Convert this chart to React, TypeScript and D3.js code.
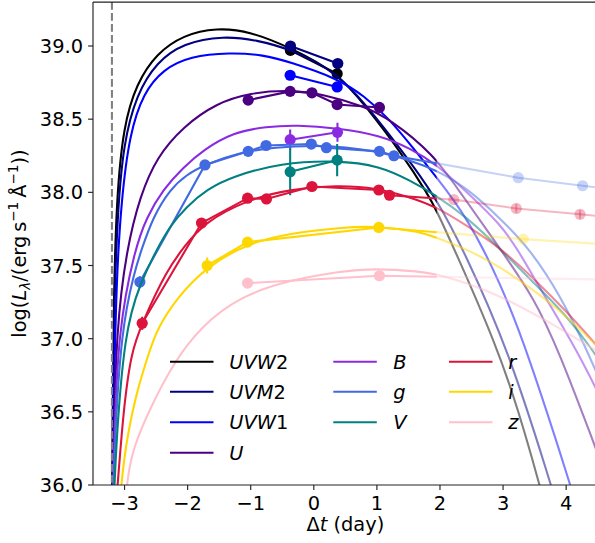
import React from "react";
import * as d3 from "d3";

type Pt = number[];

const bandNames = ["UVW2", "UVM2", "UVW1", "U", "B", "g", "V", "r", "i", "z"];
const bandColors = ["#000000", "#000080", "#0000ff", "#4b0082", "#8a2be2", "#4169e1", "#008080", "#dc143c", "#ffd700", "#ffc0cb"];

const xTicks = [-3, -2, -1, 0, 1, 2, 3, 4];
const yTicks = [36.0, 36.5, 37.0, 37.5, 38.0, 38.5, 39.0];
const explosionTime = -3.2;
const fadeTime = 1.95;

// model light curves [t, log L]
const modelUVW2: Pt[] = [[-3.2, 35.5], [-3.19, 36.5], [-3.17, 37.3], [-3.127, 37.95], [-3.02, 38.45], [-2.81, 38.745], [-2.49, 38.95], [-2.07, 39.075], [-1.54, 39.125], [-1.01, 39.1], [-0.376, 38.99], [0.37, 38.82], [0.84, 38.58], [1.37, 38.28], [1.82, 37.98], [1.95, 37.87], [2.22, 37.62], [2.9, 36.95], [3.25, 36.5], [3.58, 36.0], [3.7, 35.8]];
const modelUVM2: Pt[] = [[-3.2, 35.5], [-3.185, 36.5], [-3.16, 37.3], [-3.11, 37.85], [-3.02, 38.33], [-2.81, 38.67], [-2.49, 38.89], [-2.07, 39.02], [-1.43, 39.07], [-0.9, 39.04], [-0.376, 38.98], [0.37, 38.82], [0.84, 38.59], [1.37, 38.3], [1.93, 37.97], [2.37, 37.61], [3.09, 36.92], [3.76, 36.0], [3.9, 35.8]];
const modelUVW1: Pt[] = [[-3.2, 35.5], [-3.175, 36.5], [-3.13, 37.4], [-3.05, 37.95], [-2.92, 38.4], [-2.7, 38.68], [-2.39, 38.84], [-1.96, 38.93], [-1.33, 38.955], [-0.8, 38.94], [-0.376, 38.89], [0.365, 38.78], [0.8, 38.66], [1.2, 38.5], [1.58, 38.3], [1.95, 38.1], [2.43, 37.83], [2.96, 37.38], [3.38, 36.92], [4.07, 36.0], [4.2, 35.8]];
const modelU: Pt[] = [[-3.2, 35.5], [-3.17, 36.3], [-3.13, 37.06], [-2.97, 37.61], [-2.75, 37.98], [-2.49, 38.24], [-2.07, 38.45], [-1.54, 38.61], [-1.01, 38.68], [-0.38, 38.7], [0.15, 38.67], [0.79, 38.59], [1.21, 38.5], [1.9, 38.26], [2.32, 38.0], [2.96, 37.61], [3.49, 37.28], [3.88, 36.92], [4.47, 36.25], [4.6, 36.1]];
const modelB: Pt[] = [[-3.2, 35.5], [-3.165, 36.3], [-3.1, 37.06], [-2.84, 37.61], [-2.65, 37.83], [-2.39, 38.02], [-2.07, 38.17], [-1.75, 38.29], [-1.28, 38.41], [-0.75, 38.45], [-0.27, 38.46], [0.37, 38.44], [1.05, 38.39], [1.53, 38.3], [1.95, 38.19], [2.43, 38.0], [2.96, 37.78], [3.22, 37.62], [3.7, 37.26], [4.17, 36.92], [4.6, 36.55]];
const modelG: Pt[] = [[-3.2, 35.5], [-3.16, 36.3], [-3.05, 37.06], [-2.85, 37.45], [-2.73, 37.61], [-2.55, 37.83], [-2.28, 38.02], [-2.02, 38.12], [-1.72, 38.19], [-1.2, 38.27], [-0.6, 38.31], [0.0, 38.32], [0.5, 38.31], [1.0, 38.28], [1.53, 38.22], [1.95, 38.15], [2.43, 38.03], [2.96, 37.82], [3.43, 37.61], [3.9, 37.3], [4.3, 36.95], [4.6, 36.65]];
const modelV: Pt[] = [[-3.2, 35.5], [-3.15, 36.2], [-3.0, 37.06], [-2.75, 37.38], [-2.49, 37.61], [-2.28, 37.77], [-2.02, 37.9], [-1.7, 38.02], [-1.28, 38.11], [-0.53, 38.2], [0.37, 38.22], [1.05, 38.18], [1.53, 38.08], [1.9, 37.99], [2.43, 37.83], [2.96, 37.61], [3.49, 37.38], [4.02, 37.15], [4.39, 36.94], [4.6, 36.8]];
const modelR: Pt[] = [[-3.2, 35.5], [-3.11, 36.0], [-3.02, 36.5], [-2.9, 36.9], [-2.73, 37.1], [-2.33, 37.47], [-2.05, 37.63], [-1.75, 37.79], [-1.06, 37.95], [-0.38, 38.02], [0.37, 38.05], [1.0, 38.03], [1.5, 37.97], [1.95, 37.9], [2.43, 37.77], [2.96, 37.62], [3.49, 37.41], [4.02, 37.18], [4.47, 36.96], [4.6, 36.9]];
const modelI: Pt[] = [[-3.2, 35.0], [-3.07, 36.0], [-2.95, 36.35], [-2.8, 36.65], [-2.6, 36.92], [-2.49, 37.06], [-2.17, 37.28], [-1.7, 37.49], [-1.06, 37.65], [-0.38, 37.72], [0.42, 37.76], [1.03, 37.77], [1.69, 37.73], [1.95, 37.69], [2.43, 37.61], [2.96, 37.49], [3.49, 37.33], [4.02, 37.15], [4.44, 36.97], [4.6, 36.9]];
const modelZ: Pt[] = [[-3.2, 34.5], [-3.0, 36.0], [-2.85, 36.27], [-2.6, 36.52], [-2.23, 36.83], [-1.8, 37.08], [-1.17, 37.29], [-0.38, 37.4], [0.42, 37.46], [0.95, 37.48], [1.69, 37.46], [1.95, 37.44], [2.43, 37.38], [2.96, 37.29], [3.49, 37.17], [4.02, 37.04], [4.47, 36.92], [4.6, 36.88]];

// observations [t, log L, err]
const obsUVW2: Pt[] = [[-0.37, 38.97], [0.37, 38.81]];
const obsUVM2: Pt[] = [[-0.37, 39.0], [0.38, 38.88]];
const obsUVW1: Pt[] = [[-0.375, 38.8], [0.37, 38.72]];
const obsU: Pt[] = [[-1.04, 38.63], [-0.375, 38.69], [-0.03, 38.68], [0.37, 38.6], [1.04, 38.58]];
const obsB: Pt[] = [[-0.375, 38.36, 0.07], [0.375, 38.41, 0.065]];
const obsG: Pt[] = [[-2.757, 37.387, 0.04], [-1.725, 38.187], [-1.04, 38.28], [-0.757, 38.32], [-0.04, 38.33], [0.2, 38.305], [1.04, 38.28], [1.27, 38.25], [3.24, 38.1], [4.26, 38.045], [5.2, 37.995]];
const obsV: Pt[] = [[-0.375, 38.14, 0.16], [0.37, 38.22, 0.11]];
const obsR: Pt[] = [[-2.72, 37.105, 0.045], [-1.78, 37.79], [-1.05, 37.96], [-0.75, 37.955], [-0.03, 38.04], [1.03, 38.016], [1.2, 37.98], [2.22, 37.95], [3.21, 37.89, 0.03], [4.22, 37.85, 0.03], [5.2, 37.81]];
const obsI: Pt[] = [[-1.69, 37.5, 0.055], [-1.05, 37.66], [1.03, 37.76], [3.32, 37.68], [5.2, 37.63]];
const obsZ: Pt[] = [[-1.05, 37.38], [1.04, 37.43], [5.2, 37.4]];

const models = [modelUVW2, modelUVM2, modelUVW1, modelU, modelB, modelG, modelV, modelR, modelI, modelZ];
const observations = [obsUVW2, obsUVM2, obsUVW1, obsU, obsB, obsG, obsV, obsR, obsI, obsZ];

const FONT = "'DejaVu Sans', sans-serif";
const FS = 19.4;

function mathLabel(s: string) {
  return s.split("").map((ch, k) => (
    <tspan key={k} fontStyle={/[0-9]/.test(ch) ? "normal" : "italic"}>{ch}</tspan>
  ));
}

export default function App() {
  const W = 595, H = 543;
  const left = 93, right = 597.7, top = 2.1, bottom = 485;
  const x = d3.scaleLinear().domain([-3.5, 4.5]).range([left, right]);
  const y = d3.scaleLinear().domain([36, 39.3]).range([bottom, top]);
  const curve = d3.line<Pt>().x(d => x(d[0])).y(d => y(d[1])).curve(d3.curveBasis);
  const poly = d3.line<Pt>().x(d => x(d[0])).y(d => y(d[1]));
  const xs = x(fadeTime);
  const LW = 2.08;

  const renderBands = (modelAlpha: number, obsAlpha: number) =>
    bandNames.map((name, i) => {
      const c = bandColors[i];
      const obs = observations[i];
      return (
        <g key={name}>
          <path d={curve(models[i]) || ""} fill="none" stroke={c} strokeWidth={LW} strokeOpacity={modelAlpha} />
          {obs.filter(d => d[2]).map((d, j) => (
            <line key={"e" + j} x1={x(d[0])} x2={x(d[0])} y1={y(d[1] - d[2])} y2={y(d[1] + d[2])} stroke={c} strokeWidth={LW} strokeOpacity={obsAlpha} />
          ))}
          <path d={poly(obs) || ""} fill="none" stroke={c} strokeWidth={LW} strokeOpacity={obsAlpha} />
          {obs.map((d, j) => (
            <circle key={"m" + j} cx={x(d[0])} cy={y(d[1])} r={5.6} fill={c} fillOpacity={obsAlpha} />
          ))}
        </g>
      );
    });

  const legendCols = [
    { lx: 170, tx: 229.3, items: [0, 1, 2, 3] },
    { lx: 333.3, tx: 393.3, items: [4, 5, 6] },
    { lx: 449, tx: 508.3, items: [7, 8, 9] },
  ];
  const legendRows = [361.7, 391.7, 422.3, 452.7];

  return (
    <svg width={W} height={H} style={{ position: "absolute", left: 0, top: 0, background: "#fff" }} fontFamily={FONT}>
      <defs>
        <clipPath id="clipA"><rect x={left} y={top} width={xs - left} height={bottom - top} /></clipPath>
        <clipPath id="clipB"><rect x={xs} y={top} width={right - xs} height={bottom - top} /></clipPath>
        <clipPath id="clipAll"><rect x={left} y={top} width={right - left} height={bottom - top} /></clipPath>
      </defs>
      <rect x={0} y={0} width={W} height={H} fill="#fff" />
      <g clipPath="url(#clipB)">{renderBands(0.5, 0.3)}</g>
      <g clipPath="url(#clipA)">{renderBands(1, 1)}</g>
      <g clipPath="url(#clipAll)">
        <line x1={x(explosionTime)} x2={x(explosionTime)} y1={top} y2={bottom} stroke="#808080" strokeWidth={LW} strokeDasharray="7.7 3.3" />
      </g>

      {legendCols.map((col, ci) => (
        <g key={ci}>
          {col.items.map((bi, ri) => (
            <g key={bi}>
              <line x1={col.lx} x2={col.lx + 43.5} y1={legendRows[ri]} y2={legendRows[ri]} stroke={bandColors[bi]} strokeWidth={LW} />
              <text x={col.tx} y={legendRows[ri] + 7} fontSize={FS} fill="#000">{mathLabel(bandNames[bi])}</text>
            </g>
          ))}
        </g>
      ))}

      <line x1={left} x2={left} y1={top} y2={bottom} stroke="#222" strokeWidth={1.15} />
      <line x1={left} x2={right} y1={bottom} y2={bottom} stroke="#222" strokeWidth={1.15} />
      <line x1={left} x2={right} y1={top} y2={top} stroke="#222" strokeWidth={1.15} />
      <line x1={right} x2={right} y1={top} y2={bottom} stroke="#222" strokeWidth={1.15} />

      {xTicks.map(t => (
        <g key={t}>
          <line x1={x(t)} x2={x(t)} y1={bottom} y2={bottom + 4.9} stroke="#222" strokeWidth={1.15} />
          <text x={x(t)} y={510} fontSize={FS} textAnchor="middle" fill="#000">{t < 0 ? "\u2212" + Math.abs(t) : String(t)}</text>
        </g>
      ))}
      {yTicks.map(v => (
        <g key={v}>
          <line x1={left - 4.9} x2={left} y1={y(v)} y2={y(v)} stroke="#222" strokeWidth={1.15} />
          <text x={83} y={y(v) + 7} fontSize={FS} textAnchor="end" fill="#000">{v.toFixed(1)}</text>
        </g>
      ))}

      <text x={(left + right) / 2} y={531} fontSize={FS} textAnchor="middle" fill="#000">
        {"\u0394"}<tspan fontStyle="italic">t</tspan>{"\u00a0(day)"}
      </text>
      <text transform={`translate(25.5, ${(top + bottom) / 2}) rotate(-90)`} fontSize={FS} textAnchor="middle" fill="#000">
        {"log("}
        <tspan fontStyle="italic">L</tspan>
        <tspan fontStyle="italic" fontSize={FS * 0.7} dy={4}>{"\u03bb"}</tspan>
        <tspan dy={-4}>{"/(erg\u2009s"}</tspan>
        <tspan fontSize={FS * 0.7} dy={-7.5}>{"\u22121"}</tspan>
        <tspan dy={7.5}>{"\u2009\u00c5"}</tspan>
        <tspan fontSize={FS * 0.7} dy={-7.5}>{"\u22121"}</tspan>
        <tspan dy={7.5}>{"))"}</tspan>
      </text>
    </svg>
  );
}
